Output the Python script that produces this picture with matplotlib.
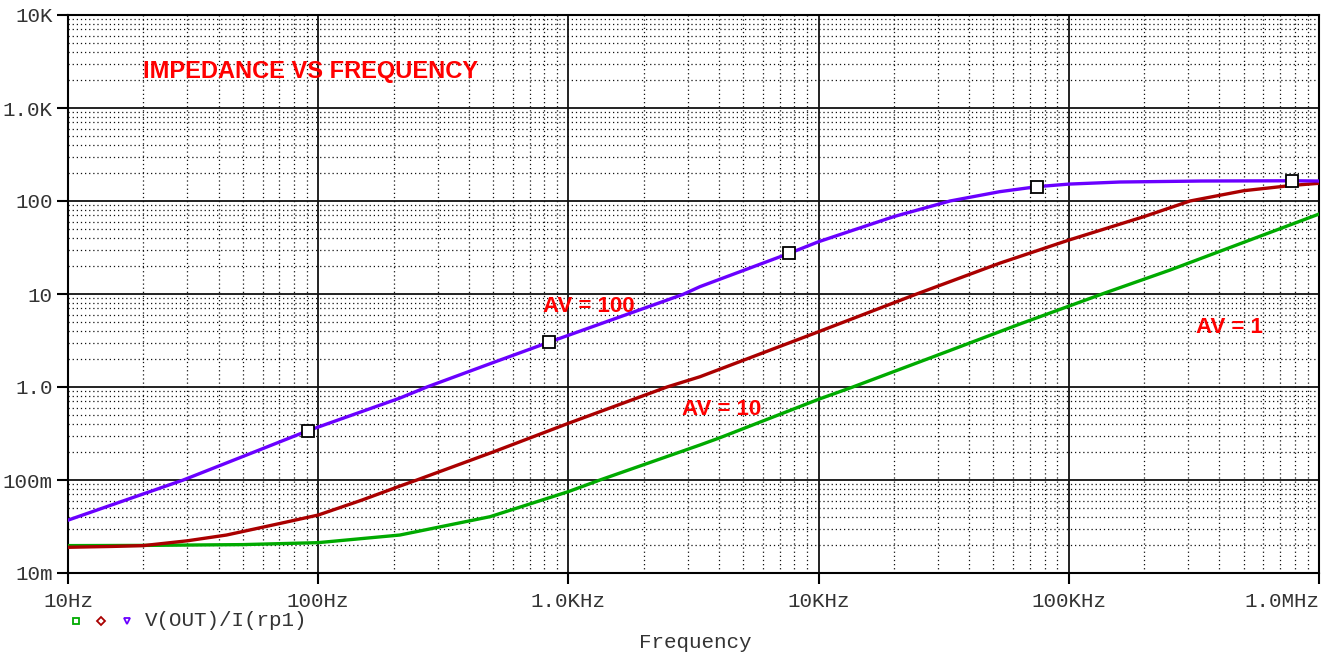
import matplotlib.pyplot as plt
import matplotlib.ticker as mticker
from matplotlib.lines import Line2D

# impedance traces, V(OUT)/I(rp1), for three closed-loop gains
f_av100 = [10, 16, 28.9, 50, 91, 212, 272, 500, 836, 2000, 2870, 3358, 7640,
           10000, 20000, 33500, 53000, 74500, 100000, 160000, 340000, 778000, 1000000]
z_av100 = [0.037, 0.0575, 0.1, 0.179, 0.339, 0.76, 1.0, 1.83, 3.03, 7.0, 9.9, 12.0, 27.4,
           36.5, 68, 100, 126, 142.5, 152, 160, 164, 165, 164]
marker_idx = [4, 8, 12, 17, 21]

f_av10 = [10, 15, 20, 30, 43, 70, 100, 150, 212, 248, 500, 1000, 2477, 3358,
          10000, 24660, 53100, 100000, 200000, 305000, 500000, 778000, 1000000]
z_av10 = [0.0189, 0.0193, 0.0197, 0.0222, 0.0256, 0.034, 0.042, 0.061, 0.086, 0.1,
          0.2, 0.407, 1.0, 1.29, 3.93, 10, 21.5, 38, 68, 100, 129, 147, 155]

f_av1 = [10, 20, 50, 100, 212, 486, 1000, 1337, 3358, 4036, 10000, 13700,
         33500, 63800, 140000, 254000, 1000000]
z_av1 = [0.0197, 0.0198, 0.0202, 0.0212, 0.0256, 0.0403, 0.075, 0.1, 0.238, 0.285,
         0.738, 1.0, 2.47, 4.76, 10.3, 18.1, 72.4]

x_ticks = [10, 100, 1e3, 1e4, 1e5, 1e6]
x_labels = ['10Hz', '100Hz', '1.0KHz', '10KHz', '100KHz', '1.0MHz']
y_ticks = [0.01, 0.1, 1, 10, 100, 1000, 10000]
y_labels = ['10m', '100m', '1.0', '10', '100', '1.0K', '10K']

mono = 'Liberation Mono'
tick_color = '#333333'

fig = plt.figure(figsize=(13.37, 6.56), dpi=100)
ax = fig.add_axes([68 / 1337, 1 - 573 / 656, (1319 - 68) / 1337, (573 - 15) / 656])

ax.plot(f_av1, z_av1, color='#00aa00', lw=2.4, zorder=3)
ax.plot(f_av10, z_av10, color='#aa0000', lw=2.4, zorder=3)
ax.plot(f_av100, z_av100, color='#6a00ff', lw=2.4, zorder=4,
        marker='s', markevery=marker_idx, markersize=8,
        markerfacecolor='white', markeredgecolor='black', markeredgewidth=1.3)

ax.set_xscale('log')
ax.set_yscale('log')
ax.set_xlim(10, 1e6)
ax.set_ylim(0.01, 10000)

ax.xaxis.set_major_locator(mticker.FixedLocator(x_ticks))
ax.xaxis.set_major_formatter(mticker.FixedFormatter(x_labels))
ax.yaxis.set_major_locator(mticker.FixedLocator(y_ticks))
ax.yaxis.set_major_formatter(mticker.FixedFormatter(y_labels))
ax.xaxis.set_minor_locator(mticker.LogLocator(base=10, subs=range(2, 10), numticks=20))
ax.yaxis.set_minor_locator(mticker.LogLocator(base=10, subs=range(2, 10), numticks=20))
ax.xaxis.set_minor_formatter(mticker.NullFormatter())
ax.yaxis.set_minor_formatter(mticker.NullFormatter())

ax.grid(which='major', color='#111111', lw=1.3, ls='-')
ax.grid(which='minor', color='#111111', lw=0.9, ls=(0, (1, 2.3)))
ax.set_axisbelow(True)

ax.tick_params(which='major', direction='out', length=8, width=1.5, color='black',
               labelsize=15, labelcolor=tick_color)
ax.tick_params(axis='x', which='major', pad=6)
ax.tick_params(axis='y', which='major', pad=3)
ax.tick_params(which='minor', length=0)
for lbl in ax.get_xticklabels() + ax.get_yticklabels():
    lbl.set_fontfamily(mono)
ax.get_xticklabels()[-1].set_horizontalalignment('right')

for sp in ax.spines.values():
    sp.set_linewidth(1.5)
    sp.set_color('black')

# annotations
ax.text(19.9, 2440, 'IMPEDANCE VS FREQUENCY', color='red', fontsize=17,
        fontweight='bold', family='Liberation Sans', va='center', ha='left')
ax.text(791, 7.25, 'AV = 100', color='red', fontsize=16, fontweight='bold',
        family='Liberation Sans', va='center', ha='left')
ax.text(2845, 0.566, 'AV = 10', color='red', fontsize=16, fontweight='bold',
        family='Liberation Sans', va='center', ha='left')
ax.text(322000, 4.31, 'AV = 1', color='red', fontsize=16, fontweight='bold',
        family='Liberation Sans', va='center', ha='left')

# trace legend under the axis
ly = 1 - 621 / 656
for xp, mk, col in [(76, 's', '#00aa00'), (101, 'D', '#aa0000'), (127, 'v', '#6a00ff')]:
    fig.add_artist(Line2D([xp / 1337], [ly], marker=mk, markersize=5 if mk != 'D' else 4,
                          markerfacecolor='none', markeredgecolor=col,
                          markeredgewidth=1.3, linestyle='none'))
fig.text(145 / 1337, ly, 'V(OUT)/I(rp1)', family=mono, fontsize=15,
         color=tick_color, va='center', ha='left')
fig.text(695 / 1337, 1 - 643 / 656, 'Frequency', family=mono, fontsize=15,
         color=tick_color, va='center', ha='center')

fig.savefig('out.png', dpi=100, facecolor='white')
